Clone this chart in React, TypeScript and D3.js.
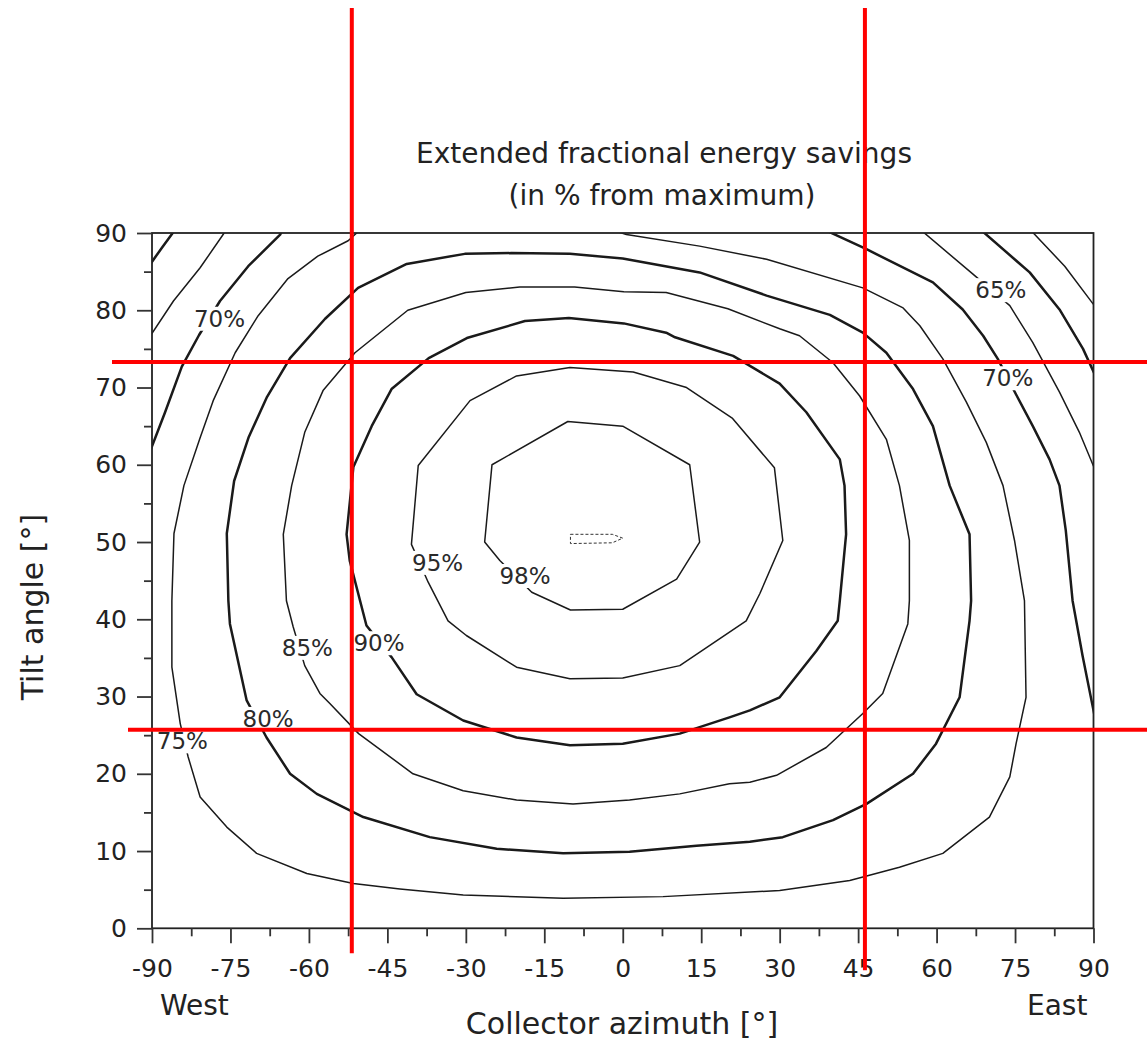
import React, { useEffect, useRef } from "react";
import * as d3 from "d3";

type Pt = [number, number];

const WIDTH = 1147;
const HEIGHT = 1048;
const FONT = "'DejaVu Sans', Verdana, sans-serif";

// axis ticks
const azimuthTicks = [-90, -75, -60, -45, -30, -15, 0, 15, 30, 45, 60, 75, 90];
const tiltTicks = [0, 10, 20, 30, 40, 50, 60, 70, 80, 90];

// contour lines, [azimuth, tilt]
const contour55East: Pt[] = [[77.8, 90.5], [84.5, 85.7], [90.5, 80.3]];
const contour60West: Pt[] = [[-90.5, 85.8], [-88, 88.2], [-85.5, 90.5]];
const contour60East: Pt[] = [[68.3, 90.5], [77.8, 84.9], [83.5, 80.1], [88, 75], [90.5, 71.3]];
const contour65West: Pt[] = [[-90.5, 76.5], [-85.9, 81.2], [-80.8, 85.5], [-76.4, 89.8], [-75.8, 90.5]];
const contour65East: Pt[] = [
  [56.8, 90.5], [66.9, 84.7], [74, 80.6], [78.4, 75.8], [83.5, 69.4], [87.3, 64.2], [90.5, 59]
];
const contour70West: Pt[] = [
  [-90.5, 61.5], [-87.5, 66.8], [-84.3, 72.7], [-81, 76.8], [-77, 81.2], [-71.6, 85.7], [-65.5, 89.8], [-64.7, 90.8]
];
const contour70East: Pt[] = [
  [38, 90.6], [46.6, 87.9], [59.3, 83.6], [65, 80.1], [68.9, 76.7], [71.7, 73.7], [75.2, 69.1],
  [78.4, 65], [81.6, 60.7], [83.5, 57.3], [84.7, 51.5], [86, 42.4], [87.9, 35.3], [90.5, 26.5]
];
const contour75: Pt[] = [
  [-49.9, 90.6], [-52.5, 89], [-58.3, 87], [-64, 84.1], [-69.7, 79.3], [-74.1, 74.5], [-78.3, 68.3],
  [-80.8, 63.5], [-83.9, 57.3], [-85.8, 51.1], [-86.2, 42.4], [-86.2, 33.8], [-84.6, 26.5], [-83.1, 22.2],
  [-80.8, 17], [-75.7, 13.1], [-70, 9.7], [-60.4, 7.1], [-51.5, 5.8], [-42.6, 5.1], [-30.5, 4.3],
  [-11.4, 3.9], [7.7, 4.1], [30, 4.9], [43.4, 6.2], [52.9, 7.9], [61.2, 9.7], [70.1, 14.4], [74, 19.6],
  [75.2, 23.9], [77.1, 29.9], [76.8, 42.4], [74.9, 50.2], [72.7, 57.3], [69.5, 62.9], [65.7, 68.1],
  [61.2, 73.7], [56.8, 78], [53.6, 80.3], [45.9, 82.9], [27.5, 86.6], [14.7, 88.3], [0.7, 89.8], [-3, 90.6]
];
const contour80: Pt[] = [
  [-75.4, 42.4], [-75.7, 51.1], [-74.3, 57.9], [-71.5, 63.6], [-68, 68.8], [-63.6, 73.8], [-56.9, 78.9],
  [-50.6, 82.9], [-41.3, 86], [-30.2, 87.3], [-21.3, 87.4], [-10.1, 87.3], [0, 86.7], [14.7, 84.9],
  [27.5, 81.9], [39.6, 79.4], [45.9, 77.1], [50.4, 74.5], [55.5, 69.8], [59.3, 65], [62.5, 57.3],
  [66.3, 51], [66.6, 42.4], [66.3, 39.8], [64.4, 29.9], [59.9, 23.9], [55.5, 20], [46.6, 16.1],
  [40.2, 14], [30.6, 11.8], [24.3, 11.2], [14.1, 10.7], [1.3, 9.9], [-11.4, 9.7], [-24.1, 10.3],
  [-36.9, 11.8], [-49.6, 14.4], [-58.5, 17.4], [-63.6, 20], [-68.1, 24.7], [-71.9, 29.5], [-75.1, 39.4]
];
const contour85: Pt[] = [
  [-64.3, 42.4], [-64.9, 51], [-63.3, 57.3], [-60.8, 64.2], [-57.3, 69.6], [-51.2, 74.5], [-41.1, 80],
  [-30, 82.3], [-19.7, 83], [-9.2, 83], [0.2, 82.4], [8.3, 82.3], [20.1, 80.2], [30, 77.6], [33.8, 76.7],
  [40.2, 73.2], [45.3, 68.9], [50.4, 63.3], [52.9, 57.3], [54.8, 50.2], [54.8, 42.4], [54.5, 39.4],
  [49.7, 30.4], [45.9, 27.8], [38.9, 23.4], [29.4, 19.8], [24.3, 18.9], [20.4, 18.7], [10.9, 17.4],
  [1.3, 16.6], [-9.5, 16.1], [-20.3, 16.6], [-30.5, 17.8], [-40.1, 20], [-50.5, 25.2], [-56, 29.1],
  [-57.9, 30.4], [-60.8, 34], [-63, 39]
];
const contour90: Pt[] = [
  [-52.2, 47.6], [-52.8, 51], [-51.5, 59.7], [-48, 65], [-44.2, 69.8], [-37.1, 73.8], [-29.8, 76.4],
  [-18.7, 78.6], [-10.3, 79], [0.2, 78.3], [8.3, 77.1], [10, 76.5], [21.1, 74.1], [30, 70.5],
  [35.1, 66.8], [41.5, 60.7], [42.4, 57.3], [42.7, 51], [41.5, 42.4], [41.1, 39.8], [37, 35.9],
  [30, 29.9], [24.3, 28.2], [20.4, 27.3], [10.9, 25.2], [0, 23.9], [-10.1, 23.7], [-20.3, 24.7],
  [-30.5, 26.9], [-39.4, 30.3], [-44.2, 35.1], [-49, 39.2]
];
const contour95: Pt[] = [
  [-37.2, 44.8], [-33.4, 39.8], [-29.9, 37.9], [-20.3, 33.8], [-10.1, 32.3], [0, 32.4], [10.9, 34],
  [23.6, 39.8], [26.2, 43.3], [30.6, 50.2], [29, 59.6], [21, 66], [12.2, 70], [2, 72], [-10.1, 72.6],
  [-20.3, 71.5], [-29.2, 68.3], [-39.1, 59.9], [-40.4, 49.7]
];
const contour98: Pt[] = [
  [-25, 60], [-10.5, 65.6], [0, 65], [12.8, 60], [14.7, 50], [10.3, 45.2], [0, 41.3], [-10, 41.2],
  [-17.4, 43.5], [-23.5, 47.6], [-26.4, 50]
];
const contourMax: Pt[] = [[-10, 51], [-2, 51], [0, 50.5], [-2, 49.9], [-10, 49.8]];

// contour labels
const labelTexts = ["98%", "95%", "90%", "85%", "80%", "75%", "70%", "70%", "65%"];
const labelAzimuths = [-18.7, -35.4, -46.6, -60.3, -67.8, -84.2, -77.1, 73.6, 72.3];
const labelTilts = [45.6, 47.3, 36.9, 36.3, 27.1, 24.2, 78.9, 71.2, 82.6];

// red guide lines
const guideAzimuths = [-51.8, 46.3];
const guideTilts = [73.3, 25.7];

function App() {
  const svgRef = useRef<SVGSVGElement>(null);

  useEffect(() => {
    const svg = d3.select(svgRef.current);
    svg.selectAll("*").remove();

    const x = d3.scaleLinear().domain([-90, 90]).range([152, 1093.5]);
    const y = d3.scaleLinear().domain([0, 90]).range([928.3, 233]);
    const [x0, x1] = x.range();
    const [y0, y1] = y.range();

    svg
      .append("defs")
      .append("clipPath")
      .attr("id", "plot-clip")
      .append("rect")
      .attr("x", x0)
      .attr("y", y1)
      .attr("width", x1 - x0)
      .attr("height", y0 - y1);

    const openLine = d3.line<Pt>().x(d => x(d[0])).y(d => y(d[1]));
    const closedLine = d3
      .line<Pt>()
      .x(d => x(d[0]))
      .y(d => y(d[1]))
      .curve(d3.curveLinearClosed);

    const contours = [
      { pts: contour55East, closed: false, heavy: false },
      { pts: contour60West, closed: false, heavy: true },
      { pts: contour60East, closed: false, heavy: true },
      { pts: contour65West, closed: false, heavy: false },
      { pts: contour65East, closed: false, heavy: false },
      { pts: contour70West, closed: false, heavy: true },
      { pts: contour70East, closed: false, heavy: true },
      { pts: contour75, closed: false, heavy: false },
      { pts: contour80, closed: true, heavy: true },
      { pts: contour85, closed: true, heavy: false },
      { pts: contour90, closed: true, heavy: true },
      { pts: contour95, closed: true, heavy: false },
      { pts: contour98, closed: true, heavy: false }
    ];

    const plot = svg.append("g").attr("clip-path", "url(#plot-clip)");
    plot
      .selectAll(".contour")
      .data(contours)
      .join("path")
      .attr("class", "contour")
      .attr("d", c => (c.closed ? closedLine(c.pts) : openLine(c.pts)))
      .attr("fill", "none")
      .attr("stroke", "#1a1a1a")
      .attr("stroke-width", c => (c.heavy ? 2.5 : 1.5))
      .attr("stroke-linejoin", "round");

    plot
      .append("path")
      .attr("d", closedLine(contourMax))
      .attr("fill", "none")
      .attr("stroke", "#333")
      .attr("stroke-width", 1)
      .attr("stroke-dasharray", "3,2");

    // labels with white boxes that cut the lines
    const labels = svg.append("g");
    labelTexts.forEach((t, i) => {
      const g = labels.append("g");
      const text = g
        .append("text")
        .attr("x", x(labelAzimuths[i]))
        .attr("y", y(labelTilts[i]))
        .attr("text-anchor", "middle")
        .attr("dominant-baseline", "central")
        .attr("font-family", FONT)
        .attr("font-size", 23)
        .attr("fill", "#2a2a2a")
        .text(t);
      const b = (text.node() as SVGTextElement).getBBox();
      g.insert("rect", "text")
        .attr("x", b.x - 3)
        .attr("y", b.y + 1)
        .attr("width", b.width + 6)
        .attr("height", b.height - 2)
        .attr("fill", "#fff");
    });

    // frame
    svg
      .append("rect")
      .attr("x", x0)
      .attr("y", y1)
      .attr("width", x1 - x0)
      .attr("height", y0 - y1)
      .attr("fill", "none")
      .attr("stroke", "#222")
      .attr("stroke-width", 1.8);

    const styleAxis = (g: d3.Selection<SVGGElement, unknown, null, undefined>) => {
      g.select(".domain").remove();
      g.selectAll(".tick line").attr("stroke", "#333").attr("stroke-width", 1.8);
      g.selectAll(".tick text")
        .attr("fill", "#222")
        .attr("font-family", FONT)
        .attr("font-size", 25);
    };

    const plain = (d: d3.NumberValue) => String(d);

    svg
      .append("g")
      .attr("transform", `translate(${x0},0)`)
      .call(d3.axisLeft(y).tickValues(tiltTicks).tickSize(15).tickPadding(10).tickFormat(plain))
      .call(styleAxis);
    svg
      .append("g")
      .attr("transform", `translate(${x0},0)`)
      .call(
        d3
          .axisLeft(y)
          .tickValues(d3.range(5, 90, 10))
          .tickSize(8)
          .tickFormat(() => "")
      )
      .call(styleAxis);
    svg
      .append("g")
      .attr("transform", `translate(0,${y0})`)
      .call(d3.axisBottom(x).tickValues(azimuthTicks).tickSize(15).tickPadding(16).tickFormat(plain))
      .call(styleAxis);
    svg
      .append("g")
      .attr("transform", `translate(0,${y0})`)
      .call(
        d3
          .axisBottom(x)
          .tickValues(d3.range(-82.5, 90, 15))
          .tickSize(8)
          .tickFormat(() => "")
      )
      .call(styleAxis);

    // titles
    const txt = (tx: number, ty: number, s: string, size: number, anchor = "middle") =>
      svg
        .append("text")
        .attr("x", tx)
        .attr("y", ty)
        .attr("text-anchor", anchor)
        .attr("font-family", FONT)
        .attr("font-size", size)
        .attr("fill", "#222")
        .text(s);

    txt(664, 163, "Extended fractional energy savings", 28);
    txt(662, 205, "(in % from maximum)", 28);
    txt(622, 1034, "Collector azimuth [°]", 30);
    txt(160, 1015, "West", 28, "start");
    txt(1027, 1015, "East", 28, "start");
    svg
      .append("text")
      .attr("transform", "translate(43,607) rotate(-90)")
      .attr("text-anchor", "middle")
      .attr("font-family", FONT)
      .attr("font-size", 30)
      .attr("fill", "#222")
      .text("Tilt angle [°]");

    // red guide lines
    const vEnds = [y0 + 25, y0 + 42];
    const hStarts = [x0 - 40, x0 - 24];
    svg
      .selectAll(".guide-v")
      .data(guideAzimuths)
      .join("line")
      .attr("class", "guide-v")
      .attr("x1", d => x(d))
      .attr("x2", d => x(d))
      .attr("y1", 8)
      .attr("y2", (_, i) => vEnds[i])
      .attr("stroke", "#ff0000")
      .attr("stroke-width", 4);
    svg
      .selectAll(".guide-h")
      .data(guideTilts)
      .join("line")
      .attr("class", "guide-h")
      .attr("x1", (_, i) => hStarts[i])
      .attr("x2", WIDTH)
      .attr("y1", d => y(d))
      .attr("y2", d => y(d))
      .attr("stroke", "#ff0000")
      .attr("stroke-width", 4);
  }, []);

  return (
    <svg
      ref={svgRef}
      width={WIDTH}
      height={HEIGHT}
      style={{ position: "absolute", left: 0, top: 0, background: "#fff" }}
    />
  );
}

export default App;
